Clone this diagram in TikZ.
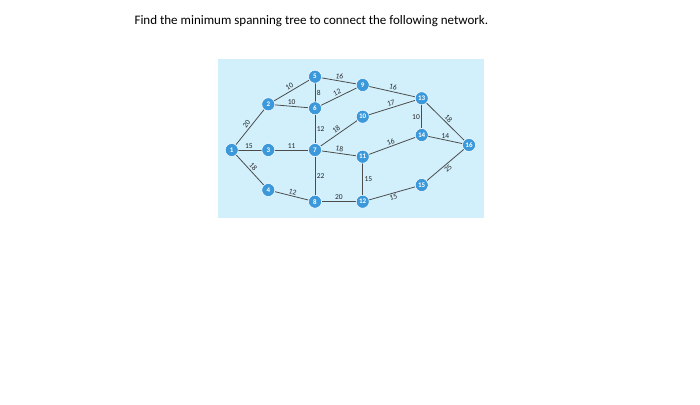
\documentclass[tikz,border=0pt]{standalone}
\usepackage{fontspec}
\setmainfont{Carlito}
\begin{document}
\begin{tikzpicture}[x=1pt,y=-1pt,
  nd/.style={circle,fill=cyan!70!blue!80,draw=white,line width=0.5pt,inner sep=0pt,minimum size=13pt,text=white,font=\fontsize{7}{7}\selectfont\bfseries},
  ed/.style={draw=gray!60!black,line width=0.8pt},
  lb/.style={font=\fontsize{7.5}{8}\selectfont,text=gray!30!black,inner sep=1.5pt}]
\useasboundingbox (0,0) rectangle (700,404);
\fill[white] (0,0) rectangle (700,404);
\node[anchor=west,font=\fontsize{13}{15}\selectfont] (t) at (131,21) {Find the minimum spanning tree to connect the following network.};
\fill[cyan!18] (218,59) rectangle (484,218);
\node[nd] (n1) at (231.7,150) {1};
\node[nd] (n2) at (268.3,104.3) {2};
\node[nd] (n3) at (268.3,150) {3};
\node[nd] (n4) at (268.3,190) {4};
\node[nd] (n5) at (315,76.7) {5};
\node[nd] (n6) at (315,108.3) {6};
\node[nd] (n7) at (315,150) {7};
\node[nd] (n8) at (315,201.7) {8};
\node[nd] (n9) at (362.7,85) {9};
\node[nd] (n10) at (362.7,116.7) {10};
\node[nd] (n11) at (362.7,156.7) {11};
\node[nd] (n12) at (362.7,201.7) {12};
\node[nd] (n13) at (421.7,98.3) {13};
\node[nd] (n14) at (421.7,135) {14};
\node[nd] (n15) at (421.7,185) {15};
\node[nd] (n16) at (469,145) {16};
\path[ed] (n1) -- node[lb,sloped,above] {20} (n2);
\path[ed] (n1) -- node[lb,above,pos=0.45] {15} (n3);
\path[ed] (n1) -- node[lb,sloped,above] {18} (n4);
\path[ed] (n2) -- node[lb,sloped,above] {10} (n5);
\path[ed] (n2) -- node[lb,above] {10} (n6);
\path[ed] (n5) -- node[lb,right] {8} (n6);
\path[ed] (n5) -- node[lb,sloped,above] {16} (n9);
\path[ed] (n6) -- node[lb,sloped,above] {12} (n9);
\path[ed] (n6) -- node[lb,right] {12} (n7);
\path[ed] (n7) -- node[lb,sloped,above] {18} (n10);
\path[ed] (n3) -- node[lb,above] {11} (n7);
\path[ed] (n7) -- node[lb,sloped,above] {18} (n11);
\path[ed] (n7) -- node[lb,right] {22} (n8);
\path[ed] (n4) -- node[lb,sloped,above] {12} (n8);
\path[ed] (n8) -- node[lb,above] {20} (n12);
\path[ed] (n11) -- node[lb,right] {15} (n12);
\path[ed] (n11) -- node[lb,sloped,above] {16} (n14);
\path[ed] (n10) -- node[lb,sloped,above] {17} (n13);
\path[ed] (n9) -- node[lb,sloped,above] {16} (n13);
\path[ed] (n13) -- node[lb,left] {10} (n14);
\path[ed] (n13) -- node[lb,sloped,above] {18} (n16);
\path[ed] (n14) -- node[lb,above] {14} (n16);
\path[ed] (n15) -- node[lb,sloped,below] {25} (n16);
\path[ed] (n12) -- node[lb,sloped,below] {15} (n15);
\foreach \i in {1,...,16} {\node[nd] at (n\i) {\i};}
\end{tikzpicture}
\end{document}
